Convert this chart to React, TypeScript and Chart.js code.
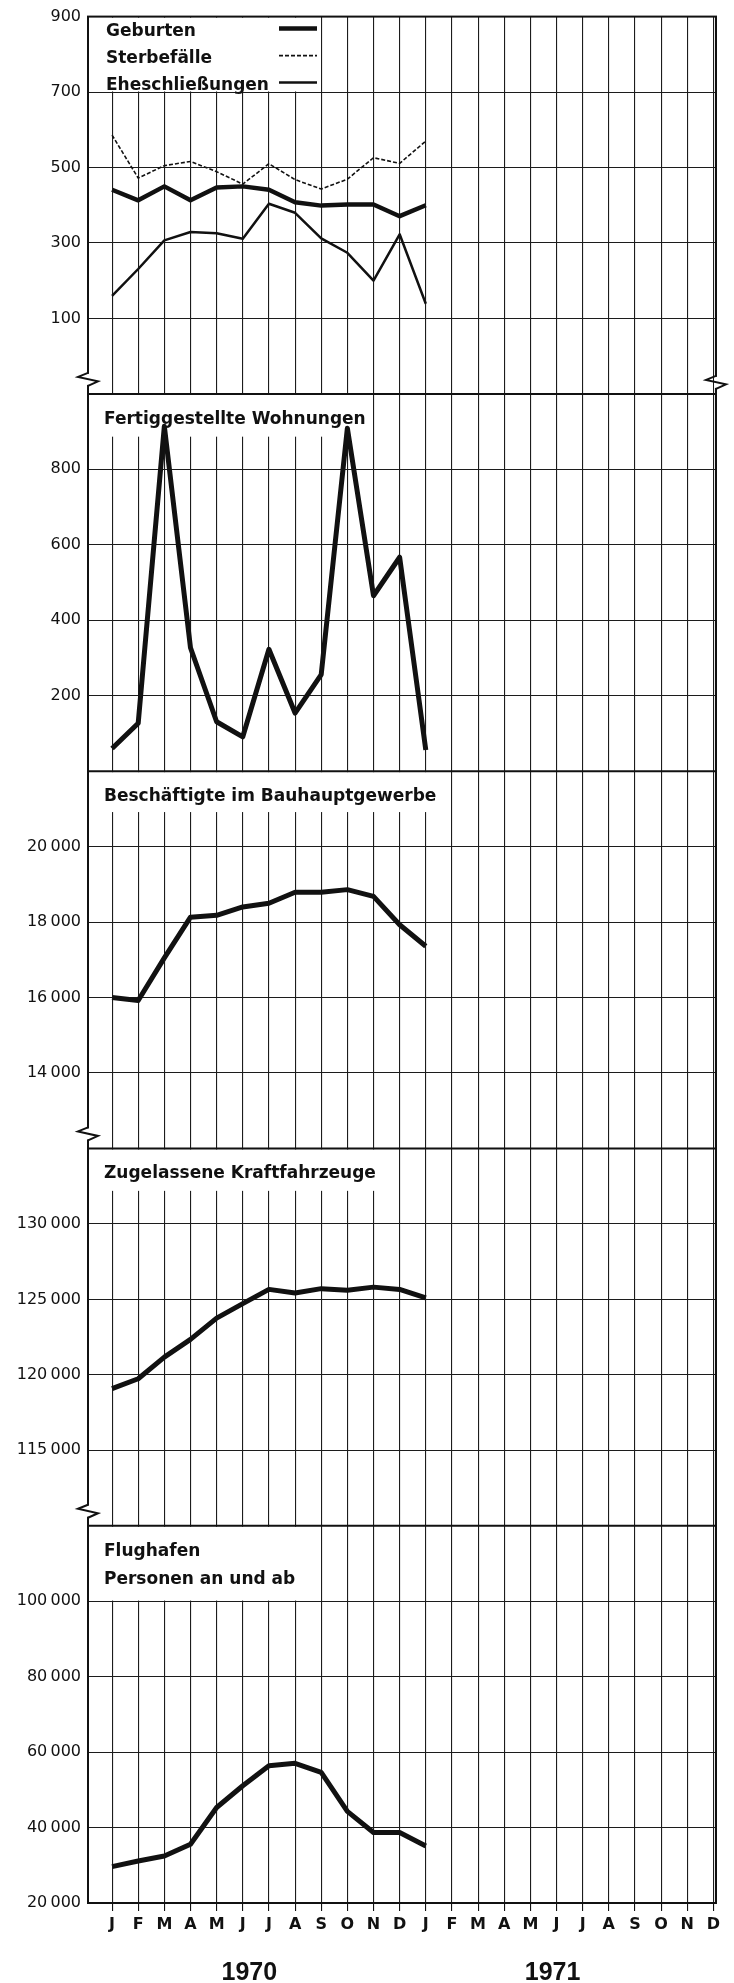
import React, { useEffect, useRef } from 'react';
import { Chart, registerables } from 'chart.js';

Chart.register(...registerables);

// ---------------- data ----------------
const MONTHS = ['J', 'F', 'M', 'A', 'M', 'J', 'J', 'A', 'S', 'O', 'N', 'D'];
const MONTH_TICKS = [...MONTHS, ...MONTHS]; // Jan 1970 .. Dec 1971
const YEARS = ['1970', '1971'];

const GEBURTEN = [441, 413, 450, 413, 447, 450, 441, 408, 399, 402, 402, 371, 400];
const STERBEFAELLE = [586, 472, 505, 516, 489, 456, 510, 468, 443, 469, 526, 511, 570];
const EHESCHLIESSUNGEN = [160, 231, 307, 329, 326, 311, 404, 380, 312, 274, 200, 323, 139];
const WOHNUNGEN = [60, 127, 914, 327, 131, 91, 323, 154, 256, 909, 465, 567, 56];
const BESCHAEFTIGTE = [16000, 15920, 17050, 18130, 18180, 18400, 18500, 18790, 18790, 18860, 18680, 17930, 17360];
const KRAFTFAHRZEUGE = [119080, 119740, 121170, 122350, 123760, 124720, 125660, 125420, 125710, 125600, 125810, 125660, 125090];
const FLUGHAFEN = [29630, 31120, 32450, 35560, 45320, 51070, 56390, 57020, 54630, 44300, 38670, 38670, 35110];

const LEGEND_LABELS = ['Geburten', 'Sterbefälle', 'Eheschließungen'];
const PANEL_TITLES: string[][] = [
  [],
  ['Fertiggestellte Wohnungen'],
  ['Beschäftigte im Bauhauptgewerbe'],
  ['Zugelassene Kraftfahrzeuge'],
  ['Flughafen', 'Personen an und ab'],
];

// y ranges per panel: min, max, step; and tick values without label
const AXIS_MIN = [-100, 0, 12000, 110000, 20000];
const AXIS_MAX = [900, 1000, 22000, 135000, 120000];
const AXIS_STEP = [200, 200, 2000, 5000, 20000];
const HIDDEN_TICKS = [[-100], [0, 1000], [12000, 22000], [110000, 135000], [120000]];

// ---------------- layout ----------------
const W = 734;
const H = 1983;
const X_MIN = -0.92;
const X_MAX = 23.1;
const INK = '#111';
const GRID = '#1c1c1c';
const FONT = '"DejaVu Sans", sans-serif';

// white title boxes (in data units of each panel)
const BOX_RIGHT_X = [7.88, 9.8, 12.7, 10.5, 7.88];
const BOX_BOTTOM_Y = [700, 885, 20900, 132150, 100000];
const BREAK_LEFT = [true, false, true, true, false];
const BREAK_RIGHT = [true, false, false, false, false];

const fmt = (v: number) =>
  v >= 10000 ? String(v).replace(/\B(?=(\d{3})+(?!\d))/g, '\u2009') : String(v);

const toXY = (arr: number[]) => arr.map((y, i) => ({ x: i, y }));

function yAxis(i: number) {
  return {
    type: 'linear',
    position: 'left',
    stack: 'panels',
    stackWeight: 1,
    weight: 10 - i,
    min: AXIS_MIN[i],
    max: AXIS_MAX[i],
    offset: false,
    border: { display: true, color: INK, width: 2 },
    grid: { color: GRID, lineWidth: 1.1, drawTicks: false },
    ticks: {
      stepSize: AXIS_STEP[i],
      padding: 7,
      color: INK,
      font: { family: FONT, size: 16 },
      callback: (v: number) => (HIDDEN_TICKS[i].includes(v) ? '' : fmt(v)),
    },
    afterFit: (s: any) => {
      s.width = 80;
    },
  };
}

function drawBreak(ctx: CanvasRenderingContext2D, x: number, yTop: number) {
  ctx.save();
  ctx.fillStyle = '#fff';
  ctx.fillRect(x - 2, yTop + 1, 4, 11);
  ctx.strokeStyle = INK;
  ctx.lineWidth = 2;
  ctx.lineJoin = 'miter';
  ctx.beginPath();
  ctx.moveTo(x, yTop);
  ctx.lineTo(x - 10, yTop + 4);
  ctx.lineTo(x + 10, yTop + 8.5);
  ctx.lineTo(x, yTop + 13);
  ctx.stroke();
  ctx.restore();
}

const panelPlugin = {
  id: 'panelDecor',
  beforeDatasetsDraw(chart: any) {
    const ctx: CanvasRenderingContext2D = chart.ctx;
    const { left, right, top, bottom } = chart.chartArea;
    const xs = chart.scales.x;
    ctx.save();
    for (let i = 0; i < 5; i++) {
      const ys = chart.scales['y' + i];
      const boxR = xs.getPixelForValue(BOX_RIGHT_X[i]);
      const boxB = ys.getPixelForValue(BOX_BOTTOM_Y[i]);
      ctx.fillStyle = '#fff';
      ctx.fillRect(left + 1, ys.top + 1, boxR - left - 1, boxB - ys.top - 1.6);
      ctx.fillStyle = INK;
      ctx.font = `bold 17px ${FONT}`;
      ctx.textAlign = 'left';
      ctx.textBaseline = 'alphabetic';
      PANEL_TITLES[i].forEach((t, k) => {
        ctx.fillText(t, left + 16, ys.top + 30 + k * 28);
      });
    }
    // legend in first panel
    const y0 = chart.scales.y0;
    const dashes = [[], [4, 2], []];
    const widths = [4.5, 1.6, 2.5];
    LEGEND_LABELS.forEach((t, k) => {
      const base = y0.top + 19 + k * 27;
      ctx.fillStyle = INK;
      ctx.font = `bold 17px ${FONT}`;
      ctx.fillText(t, left + 18, base);
      ctx.beginPath();
      ctx.setLineDash(dashes[k]);
      ctx.lineWidth = widths[k];
      ctx.strokeStyle = INK;
      ctx.moveTo(left + 191, base - 7);
      ctx.lineTo(left + 229, base - 7);
      ctx.stroke();
    });
    ctx.setLineDash([]);
    // panel separators
    ctx.strokeStyle = INK;
    ctx.lineWidth = 2;
    for (let i = 0; i < 4; i++) {
      const yb = chart.scales['y' + i].bottom;
      ctx.beginPath();
      ctx.moveTo(left, yb);
      ctx.lineTo(right, yb);
      ctx.stroke();
    }
    // frame
    ctx.strokeRect(left, top, right - left, bottom - top);
    // axis breaks
    for (let i = 0; i < 5; i++) {
      const ys = chart.scales['y' + i];
      if (BREAK_LEFT[i]) drawBreak(ctx, left, ys.bottom - 21);
      if (BREAK_RIGHT[i]) drawBreak(ctx, right, ys.bottom - 18);
    }
    ctx.restore();
  },
  afterDraw(chart: any) {
    const ctx: CanvasRenderingContext2D = chart.ctx;
    const xs = chart.scales.x;
    ctx.save();
    ctx.fillStyle = INK;
    ctx.font = 'bold 25px "Liberation Sans", Arial, sans-serif';
    ctx.textAlign = 'center';
    ctx.textBaseline = 'alphabetic';
    ctx.fillText(YEARS[0], xs.getPixelForValue(5.25), 1980);
    ctx.fillText(YEARS[1], xs.getPixelForValue(16.85), 1980);
    ctx.restore();
  },
};

export default function App() {
  const ref = useRef<HTMLCanvasElement>(null);
  useEffect(() => {
    const canvas = ref.current!;
    const line = (data: number[], axis: string, width: number, dash: number[] = []) => ({
      data: toXY(data),
      yAxisID: axis,
      borderColor: INK,
      backgroundColor: INK,
      borderWidth: width,
      borderDash: dash,
      pointRadius: 0,
      tension: 0,
      fill: false,
      borderJoinStyle: 'round',
    });
    const scales: any = {
      x: {
        type: 'linear',
        position: 'bottom',
        min: X_MIN,
        max: X_MAX,
        border: { display: true, color: INK, width: 2 },
        grid: { color: GRID, lineWidth: 1.1, drawTicks: true, tickLength: 8, tickColor: INK },
        afterBuildTicks: (s: any) => {
          s.ticks = MONTH_TICKS.map((_, i) => ({ value: i }));
        },
        ticks: {
          autoSkip: false,
          maxRotation: 0,
          minRotation: 0,
          padding: 4,
          color: INK,
          font: { family: FONT, size: 16, weight: 'bold' },
          callback: (v: number, idx: number) => MONTH_TICKS[idx] ?? '',
        },
        afterFit: (s: any) => {
          s.height = 80;
        },
      },
    };
    for (let i = 0; i < 5; i++) scales['y' + i] = yAxis(i);

    const chart = new Chart(canvas, {
      type: 'line',
      data: {
        datasets: [
          { label: LEGEND_LABELS[0], ...line(GEBURTEN, 'y0', 4.5) },
          { label: LEGEND_LABELS[1], ...line(STERBEFAELLE, 'y0', 1.6, [4, 2]) },
          { label: LEGEND_LABELS[2], ...line(EHESCHLIESSUNGEN, 'y0', 2.5) },
          { label: PANEL_TITLES[1][0], ...line(WOHNUNGEN, 'y1', 5) },
          { label: PANEL_TITLES[2][0], ...line(BESCHAEFTIGTE, 'y2', 5) },
          { label: PANEL_TITLES[3][0], ...line(KRAFTFAHRZEUGE, 'y3', 5) },
          { label: PANEL_TITLES[4][0], ...line(FLUGHAFEN, 'y4', 5) },
        ] as any,
      },
      options: {
        responsive: false,
        animation: false,
        devicePixelRatio: 1,
        layout: { padding: { left: 8, right: 18, top: 15, bottom: 0 } },
        plugins: { legend: { display: false }, tooltip: { enabled: false } },
        scales,
      } as any,
      plugins: [panelPlugin],
    });
    return () => chart.destroy();
  }, []);
  return (
    <div style={{ position: 'absolute', left: 0, top: 0, width: W, height: H, background: '#fff' }}>
      <canvas ref={ref} width={W} height={H} style={{ display: 'block', width: W, height: H }} />
    </div>
  );
}
